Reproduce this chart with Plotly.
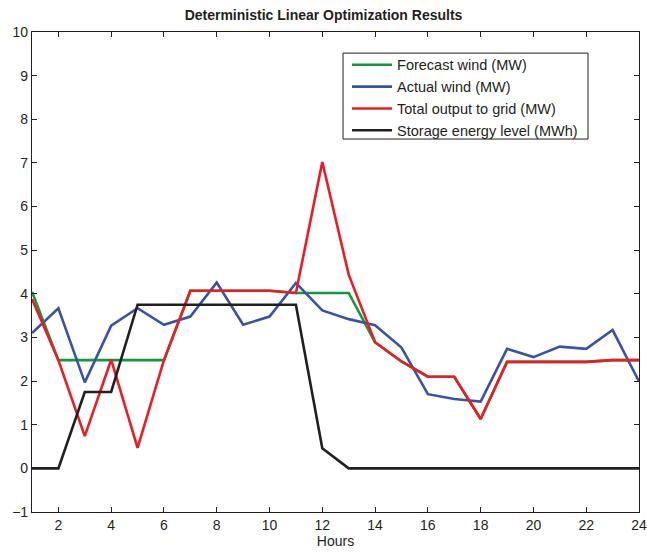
import plotly.graph_objects as go

hours = list(range(1, 25))
forecast_wind = [4.05, 2.48, 2.48, 2.48, 2.48, 2.48, 4.07, 4.07, 4.07, 4.07, 4.02, 4.02,
                 4.02, 2.89, 2.45, 2.10, 2.10, 1.13, 2.44, 2.44, 2.44, 2.44, 2.48, 2.48]
actual_wind = [3.10, 3.67, 1.97, 3.27, 3.67, 3.29, 3.48, 4.26, 3.29, 3.48, 4.25, 3.62,
               3.42, 3.28, 2.77, 1.70, 1.59, 1.53, 2.74, 2.55, 2.79, 2.74, 3.17, 1.99]
grid_output = [3.88, 2.48, 0.74, 2.49, 0.47, 2.48, 4.07, 4.07, 4.07, 4.07, 4.02, 7.02,
               4.44, 2.89, 2.45, 2.10, 2.10, 1.13, 2.44, 2.44, 2.44, 2.44, 2.48, 2.48]
storage_level = [0, 0, 1.75, 1.75, 3.75, 3.75, 3.75, 3.75, 3.75, 3.75, 3.75, 0.46,
                 0, 0, 0, 0, 0, 0, 0, 0, 0, 0, 0, 0]

x_ticks = list(range(2, 25, 2))
y_ticks = list(range(-1, 11))

series = [
    ("Forecast wind (MW)", forecast_wind, "#12993f"),
    ("Actual wind (MW)", actual_wind, "#3953a4"),
    ("Total output to grid (MW)", grid_output, "#ec1c24"),
    ("Storage energy level (MWh)", storage_level, "#231f20"),
]

FONT = "Liberation Sans, Arial"
INK = "#231f20"

fig = go.Figure()
for name, vals, color in series:
    fig.add_trace(go.Scatter(x=hours, y=vals, mode="lines", name=name,
                             line=dict(color=color, width=2.6)))

axis_common = dict(showgrid=False, zeroline=False, showline=True, linecolor=INK,
                   linewidth=1.2, mirror="ticks", ticks="inside", ticklen=5,
                   tickcolor=INK, ticklabeloverflow="allow", automargin=False,
                   tickfont=dict(family=FONT, size=14, color=INK))

# framed white box behind the legend entries
fig.add_shape(type="rect", xref="paper", yref="paper",
              x0=0.5124, x1=0.916, y0=0.777, y1=0.956,
              line=dict(color=INK, width=1), fillcolor="white", layer="above")

fig.update_layout(
    width=647, height=552,
    margin=dict(l=32, r=8, t=32, b=40),
    paper_bgcolor="white", plot_bgcolor="white",
    title=dict(text="<b>Deterministic Linear Optimization Results</b>", x=0.5, xanchor="center",
               y=0.973, yanchor="middle",
               font=dict(family=FONT, size=14, color=INK)),
    xaxis=dict(range=[1, 24], tickvals=x_ticks,
               title=dict(text="Hours", standoff=2,
                          font=dict(family=FONT, size=14, color=INK)),
               **axis_common),
    yaxis=dict(range=[-1, 10], tickvals=y_ticks, **axis_common),
    legend=dict(x=0.519, y=0.965, xanchor="left", yanchor="top", bgcolor="rgba(0,0,0,0)",
                borderwidth=0, tracegroupgap=0, itemwidth=40,
                font=dict(family=FONT, size=14.5, color=INK)),
    showlegend=True,
)

fig.write_html("out.html")
